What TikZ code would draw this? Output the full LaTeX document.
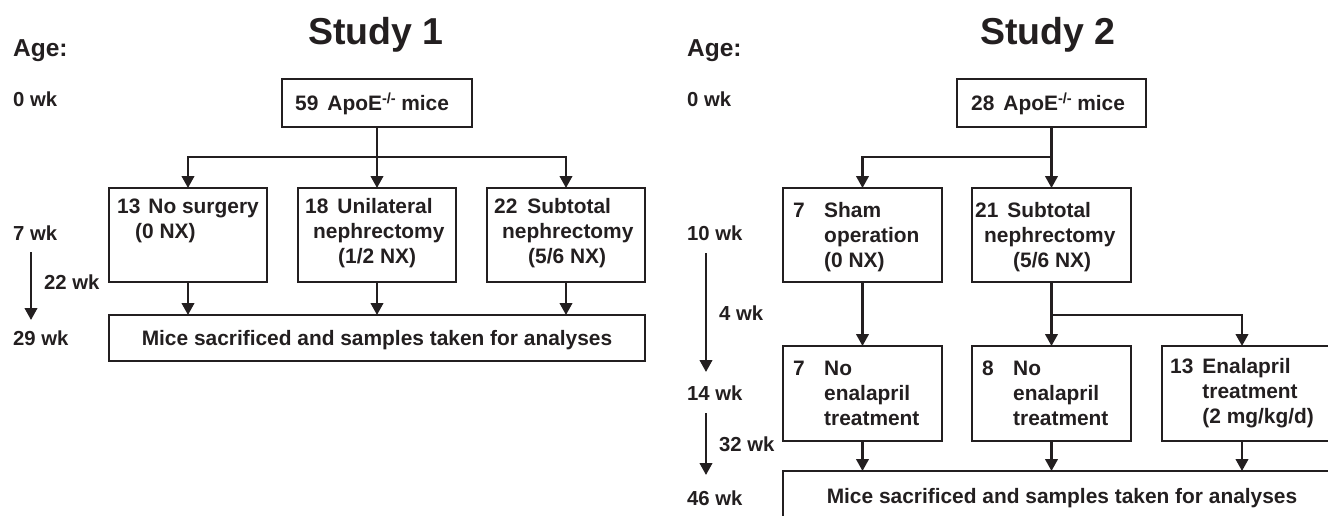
\documentclass[tikz,border=0pt]{standalone}
\usepackage{fontspec}
\setmainfont{Liberation Sans}
\usetikzlibrary{arrows.meta}
\definecolor{ink}{RGB}{35,31,32}
\begin{document}
\begin{tikzpicture}[x=1pt,y=-1pt,
  box/.style={draw=ink,line width=2.4pt,inner sep=0pt,outer sep=0pt},
  conn/.style={draw=ink,line width=2.4pt},
  arr/.style={conn,-{Triangle[width=12.5pt,length=12pt]}},
  btxt/.style={font=\bfseries\fontsize{20.9}{25}\selectfont,text=ink,inner sep=0pt,anchor=north west},
  lbl/.style={font=\bfseries\fontsize{20.3}{24}\selectfont,text=ink,inner sep=0pt,anchor=base west},
  age/.style={font=\bfseries\fontsize{24.5}{28}\selectfont,text=ink,inner sep=0pt,anchor=base west},
  ttl/.style={font=\bfseries\fontsize{37.5}{42}\selectfont,text=ink,inner sep=0pt,anchor=base}]
\useasboundingbox (0,0) rectangle (1328,516);
\clip (0,0) rectangle (1328,516);
% ---------------- Study 1 ----------------
\node[ttl] (t1) at (376,45) {Study 1};
\node[age] (age1) at (13,57) {Age:};
\node[lbl] (w0a) at (13,107) {0 wk};
\node[lbl] (w7) at (13,240) {7 wk};
\node[lbl] (w22) at (44,289) {22 wk};
\node[lbl] (w29) at (13,345) {29 wk};
\coordinate (ta1) at (31,252);
\coordinate (tb1) at (31,320);
\draw[arr] (ta1) -- (tb1);

\node[box,minimum width=190,minimum height=48] (s1top) at (377,103) {};
\node[btxt] (s1topt) at (295,92.5) {\begin{tabular}{@{}l@{}}59\hspace{9pt}ApoE\textsuperscript{-/-}\hspace{5pt}mice\end{tabular}};
\node[box,minimum width=158,minimum height=94] (s1a) at (188,235) {};
\node[box,minimum width=158,minimum height=94] (s1b) at (377,235) {};
\node[box,minimum width=158,minimum height=94] (s1c) at (566,235) {};
\node[btxt] (s1at) at (117,195.5) {\begin{tabular}{@{}l@{}}13\hspace{8pt}No surgery\\\hspace*{18pt}(0 NX)\end{tabular}};
\node[btxt] (s1bt) at (305,195.5) {\begin{tabular}{@{}l@{}}18\hspace{9pt}Unilateral\\\hspace*{8pt}nephrectomy\\\hspace*{33pt}(1/2 NX)\end{tabular}};
\node[btxt] (s1ct) at (494,195.5) {\begin{tabular}{@{}l@{}}22\hspace{10pt}Subtotal\\\hspace*{8pt}nephrectomy\\\hspace*{34pt}(5/6 NX)\end{tabular}};
\node[box,minimum width=536,minimum height=46] (s1end) at (377,338) {};
\node[btxt,anchor=base] (s1endt) at (377,345) {Mice sacrificed and samples taken for analyses};

\coordinate (s1br) at (377,157);
\draw[conn] (s1top.south) -- (s1br);
\draw[arr] (s1br) -- (s1b.north);
\draw[arr] (s1br) -| (s1a.north);
\draw[arr] (s1br) -| (s1c.north);
\draw[arr] (s1a.south) -- (s1a.south |- s1end.north);
\draw[arr] (s1b.south) -- (s1b.south |- s1end.north);
\draw[arr] (s1c.south) -- (s1c.south |- s1end.north);

% ---------------- Study 2 ----------------
\node[ttl] (t2) at (1048,45) {Study 2};
\node[age] (age2) at (687,57) {Age:};
\node[lbl] (w0b) at (687,107) {0 wk};
\node[lbl] (w10) at (687,240) {10 wk};
\node[lbl] (w4) at (719,320) {4 wk};
\node[lbl] (w14) at (687,400) {14 wk};
\node[lbl] (w32) at (719,451) {32 wk};
\node[lbl] (w46) at (687,505) {46 wk};
\coordinate (ta2) at (706,253);
\coordinate (tb2) at (706,372);
\coordinate (tc2) at (706,413);
\coordinate (td2) at (706,475);
\draw[arr] (ta2) -- (tb2);
\draw[arr] (tc2) -- (td2);

\node[box,minimum width=189,minimum height=48] (s2top) at (1051.5,103) {};
\node[btxt] (s2topt) at (971,92.5) {\begin{tabular}{@{}l@{}}28\hspace{9pt}ApoE\textsuperscript{-/-}\hspace{5pt}mice\end{tabular}};
\node[box,minimum width=159,minimum height=94] (s2a) at (862.5,235) {};
\node[box,minimum width=159,minimum height=94] (s2b) at (1051.5,235) {};
\node[btxt] (s2at) at (793,199.5) {\begin{tabular}{@{}l@{\hspace{19.4pt}}l@{}}7 & Sham\\ & operation\\ & (0 NX)\end{tabular}};
\node[btxt] (s2bt) at (975,199.5) {\begin{tabular}{@{}l@{}}21\hspace{9pt}Subtotal\\\hspace*{9pt}nephrectomy\\\hspace*{38pt}(5/6 NX)\end{tabular}};

\node[box,minimum width=159,minimum height=95] (s2c) at (862.5,393.5) {};
\node[box,minimum width=159,minimum height=95] (s2d) at (1051.5,393.5) {};
\node[box,minimum width=179,minimum height=95] (s2e) at (1251.5,393.5) {};
\node[btxt] (s2ct) at (793,357.5) {\begin{tabular}{@{}l@{\hspace{19.4pt}}l@{}}7 & No\\ & enalapril\\ & treatment\end{tabular}};
\node[btxt] (s2dt) at (982,357.5) {\begin{tabular}{@{}l@{\hspace{19.4pt}}l@{}}8 & No\\ & enalapril\\ & treatment\end{tabular}};
\node[btxt] (s2et) at (1170,355.5) {\begin{tabular}{@{}l@{\hspace{9pt}}l@{}}13 & Enalapril\\ & treatment\\ & (2 mg/kg/d)\end{tabular}};

\node[box,minimum width=558,minimum height=60] (s2end) at (1062,501) {};
\node[btxt,anchor=base] (s2endt) at (1062,503) {Mice sacrificed and samples taken for analyses};

\coordinate (s2br) at (1051.5,157);
\draw[conn] (s2top.south) -- (s2br);
\draw[arr] (s2br) -- (s2b.north);
\draw[arr] (s2br) -| (s2a.north);
\draw[arr] (s2a.south) -- (s2c.north);
\coordinate (s2br2) at (1051.5,315);
\coordinate (s2ein) at (1242,346);
\coordinate (s2eout) at (1242,441);
\draw[conn] (s2b.south) -- (s2br2);
\draw[arr] (s2br2) -- (s2d.north);
\draw[arr] (s2br2) -| (s2ein);
\draw[arr] (s2c.south) -- (s2c.south |- s2end.north);
\draw[arr] (s2d.south) -- (s2d.south |- s2end.north);
\draw[arr] (s2eout) -- (s2eout |- s2end.north);
\end{tikzpicture}
\end{document}
